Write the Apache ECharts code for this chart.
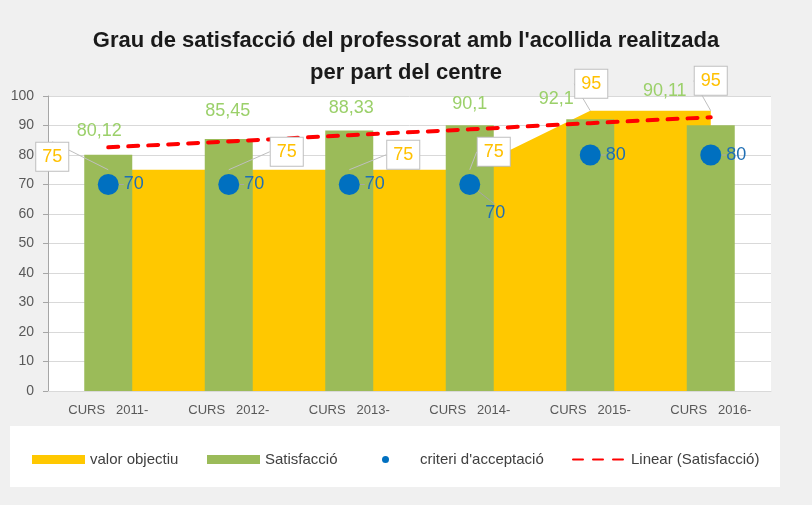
<!DOCTYPE html>
<html>
<head>
<meta charset="utf-8">
<script src="https://cdn.jsdelivr.net/npm/echarts@6/dist/echarts.min.js"></script>
<style>
  html, body { margin: 0; padding: 0; background: #f0f0f0; }
  #chart { width: 812px; height: 505px; }
</style>
</head>
<body>
<div id="chart"></div>
<script>
var chart = echarts.init(document.getElementById('chart'));

// data
var cursos = ['CURS   2011-', 'CURS   2012-', 'CURS   2013-', 'CURS   2014-', 'CURS   2015-', 'CURS   2016-'];
var valorObjectiu = [75, 75, 75, 75, 95, 95];
var satisfaccio = [80.12, 85.45, 88.33, 90.1, 92.1, 90.11];
var criteriAcceptacio = [70, 70, 70, 70, 80, 80];
var linearSatisfaccio = [82.6, 84.6, 86.7, 88.7, 90.8, 92.8];

// label placement (offsets in px)
var objectiuLabelShift = [[-56, -13], [58, -18], [54, -15], [24, -18], [1, -27], [0, -30]];
var satisLabelShift = [[-9, -15], [-1, -19], [2, -13], [0, -12], [-34, -11], [-46, -25]];
var criteriLabelShift = [[0, 0], [0, 0], [0, 0], [0, 29], [0, 0], [0, 0]];

var fmtComma = function (v) { return String(v).replace('.', ','); };

var satisData = satisfaccio.map(function (v, i) {
    return { value: v, label: { offset: satisLabelShift[i] } };
});

var font = 'Liberation Sans, sans-serif';

function legendAt(left, name, icon, w, h, extra, textPad) {
    var item = { name: name };
    if (icon) item.icon = icon;
    if (extra) item.itemStyle = extra;
    return {
        left: left,
        top: 447,
        itemWidth: w,
        itemHeight: h,
        textStyle: { fontFamily: font, fontSize: 15, color: '#404040', padding: textPad || 0 },
        data: [item]
    };
}

var option = {
    backgroundColor: '#f0f0f0',
    animation: false,
    title: {
        text: "Grau de satisfacció del professorat amb l'acollida realitzada\nper part del centre",
        left: 'center',
        top: 20,
        textStyle: {
            fontFamily: font,
            fontSize: 22,
            fontWeight: 'bold',
            color: '#1a1a1a',
            lineHeight: 32
        }
    },
    graphic: [{
        type: 'rect',
        left: 10,
        top: 426,
        shape: { width: 770, height: 61 },
        style: { fill: '#ffffff' },
        z: -1
    }],
    legend: [
        legendAt(27, 'valor objectiu', 'rect', 53, 9),
        legendAt(202, 'Satisfacció', 'rect', 53, 9),
        legendAt(377, "criteri d'acceptació", 'circle', 33, 7, null, [0, 0, 0, 13]),
        legendAt(567, 'Linear (Satisfacció)', null, 53, 9, { opacity: 0 })
    ],
    grid: {
        left: 48,
        right: 41,
        top: 96,
        bottom: 114,
        show: true,
        backgroundColor: '#ffffff',
        borderWidth: 0
    },
    xAxis: {
        type: 'category',
        data: cursos,
        axisLine: { lineStyle: { color: '#d9d9d9' } },
        axisTick: { show: false },
        axisLabel: { fontFamily: font, fontSize: 13, color: '#595959', margin: 13 }
    },
    yAxis: {
        type: 'value',
        min: 0,
        max: 100,
        interval: 10,
        axisLine: { show: true, lineStyle: { color: '#a6a6a6' } },
        axisTick: { show: true, length: 5, lineStyle: { color: '#a6a6a6' } },
        axisLabel: { fontFamily: font, fontSize: 14, color: '#595959', margin: 14 },
        splitLine: { lineStyle: { color: '#d9d9d9' } }
    },
    series: [
        {
            name: 'valor objectiu',
            type: 'line',
            data: valorObjectiu,
            symbol: 'none',
            itemStyle: { color: '#FFC800' },
            lineStyle: { width: 0 },
            areaStyle: { color: '#FFC800', opacity: 1 },
            z: 1
        },
        {
            name: 'Satisfacció',
            type: 'bar',
            data: satisData,
            barWidth: 48,
            itemStyle: { color: '#9BBB59' },
            z: 2,
            label: {
                show: true,
                position: 'top',
                distance: 0,
                fontFamily: font,
                fontSize: 18,
                color: '#9BD06A',
                formatter: function (p) { return fmtComma(p.value); }
            }
        },
        {
            name: 'Linear (Satisfacció)',
            type: 'line',
            data: linearSatisfaccio,
            symbol: 'none',
            itemStyle: { color: '#FF0000' },
            lineStyle: { color: '#FF0000', width: 4, type: [10, 10], cap: 'round' },
            z: 3
        },
        {
            name: "criteri d'acceptació",
            type: 'scatter',
            data: criteriAcceptacio,
            symbolSize: 21,
            itemStyle: { color: '#0070C0', opacity: 1 },
            z: 4,
            label: {
                show: true,
                position: 'right',
                distance: 5,
                fontFamily: font,
                fontSize: 18,
                color: '#1F6FB4'
            },
            labelLine: { show: true, lineStyle: { color: '#a6a6a6', width: 1 } },
            labelLayout: function (p) {
                var s = criteriLabelShift[p.dataIndex];
                return { dx: s[0], dy: s[1] };
            }
        },
        {
            // callout labels of the target value, drawn above the bars
            name: 'valor objectiu',
            type: 'line',
            data: valorObjectiu,
            symbol: 'circle',
            symbolSize: 0,
            silent: true,
            itemStyle: { color: '#FFC800' },
            lineStyle: { width: 0, opacity: 0 },
            z: 5,
            label: {
                show: true,
                position: 'inside',
                fontFamily: font,
                fontSize: 18,
                color: '#FFC000',
                backgroundColor: '#ffffff',
                borderColor: '#bfbfbf',
                borderWidth: 1,
                padding: [6, 6, 4, 6]
            },
            labelLine: { show: true, lineStyle: { color: '#bfbfbf', width: 1 } },
            labelLayout: function (p) {
                var s = objectiuLabelShift[p.dataIndex];
                return { dx: s[0], dy: s[1] };
            }
        }
    ]
};
chart.setOption(option);
</script>
</body>
</html>
